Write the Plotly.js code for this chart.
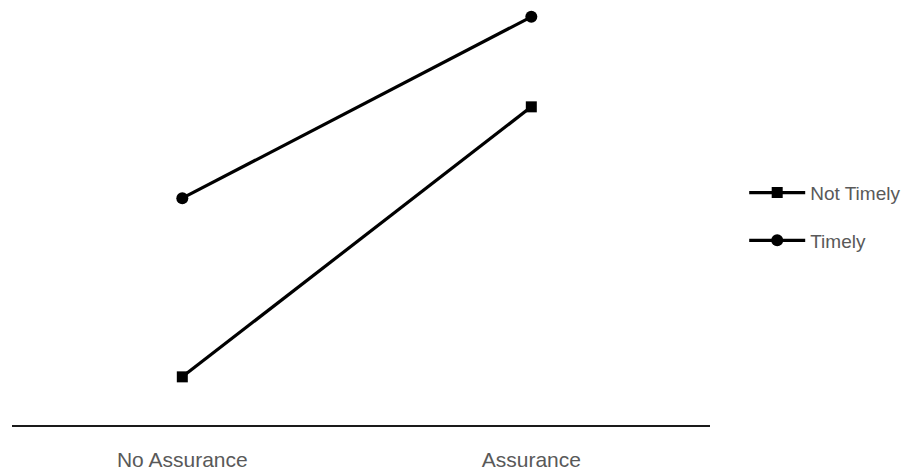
<!DOCTYPE html>
<html>
<head>
<meta charset="utf-8">
<script src="https://cdn.plot.ly/plotly-3.0.1.min.js"></script>
<style>html,body{margin:0;padding:0;background:#fff;}#chart{width:918px;height:473px;}</style>
</head>
<body>
<div id="chart"></div>
<script>
var categories = ["No Assurance", "Assurance"];
var notTimely = [1.07, 7.07];
var timely = [5.04, 9.07];

var traces = [
  {x: categories, y: notTimely, name: "Not Timely", type: "scatter", mode: "lines+markers",
   legendgroup: "a",
   line: {color: "#000", width: 3.2}, marker: {symbol: "square", size: 11, color: "#000"}, cliponaxis: false},
  {x: categories, y: timely, name: "Timely", type: "scatter", mode: "lines+markers",
   legendgroup: "b",
   line: {color: "#000", width: 3.2}, marker: {symbol: "circle", size: 12, color: "#000"}, cliponaxis: false}
];

var layout = {
  width: 918, height: 473,
  margin: {l: 12, r: 208, t: 0, b: 48},
  paper_bgcolor: "#fff", plot_bgcolor: "#fff",
  font: {family: "Liberation Sans, Arial, sans-serif", color: "#595959", size: 21},
  showlegend: true,
  legend: {x: 1.049, xanchor: "left", y: 0.49, yanchor: "middle",
           traceorder: "grouped", tracegroupgap: 20, itemwidth: 56,
           font: {size: 19, color: "#595959"}},
  xaxis: {type: "category", range: [-0.488, 1.512], showline: true, linecolor: "#1a1a1a", linewidth: 2,
          showgrid: false, zeroline: false, ticks: "outside", ticklen: 15, tickcolor: "rgba(0,0,0,0)",
          tickfont: {size: 21, color: "#595959"}},
  yaxis: {range: [0, 9.444], visible: false, showgrid: false, zeroline: false}
};

Plotly.newPlot("chart", traces, layout, {displayModeBar: false, staticPlot: true});
</script>
</body>
</html>
